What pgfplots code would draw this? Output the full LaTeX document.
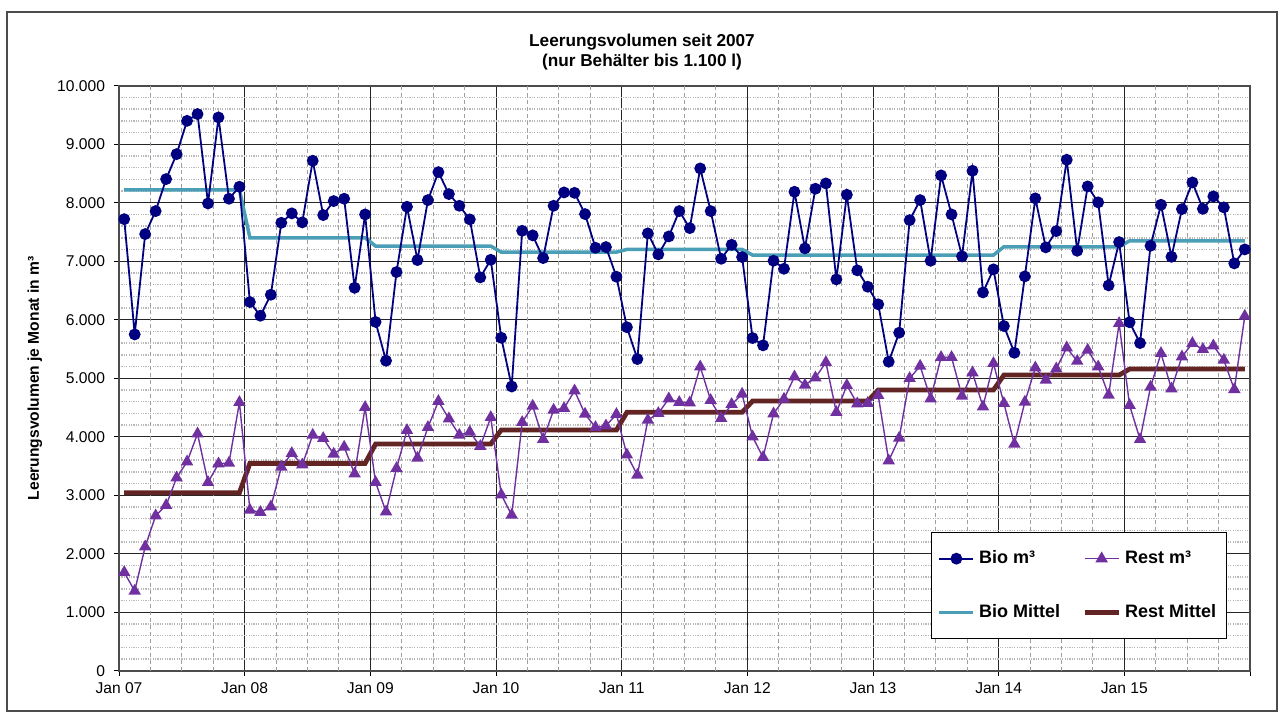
\documentclass[border=0pt]{standalone}
\usepackage{fontspec}
\setmainfont{Liberation Sans}
\usepackage{pgfplots}
\pgfplotsset{compat=1.18}
\usepackage{pgfplotstable}

\definecolor{bioc}{RGB}{0,0,128}
\definecolor{restc}{RGB}{112,48,160}
\definecolor{biom}{RGB}{74,158,182}
\definecolor{restm}{RGB}{99,37,35}

\pgfplotstableread{
x bio rest
0.5 7720 1683
1.5 5750 1364
2.5 7465 2121
3.5 7858 2651
4.5 8405 2828
5.5 8832 3300
6.5 9401 3573
7.5 9516 4052
8.5 7989 3221
9.5 9459 3539
10.5 8069 3551
11.5 8274 4589
12.5 6303 2748
13.5 6069 2709
14.5 6428 2805
15.5 7658 3483
16.5 7819 3717
17.5 7665 3522
18.5 8718 4030
19.5 7790 3973
20.5 8029 3705
21.5 8069 3825
22.5 6547 3368
23.5 7801 4503
24.5 5963 3221
25.5 5300 2719
26.5 6816 3461
27.5 7932 4110
28.5 7021 3637
29.5 8046 4161
30.5 8524 4606
31.5 8149 4309
32.5 7949 4030
33.5 7716 4081
34.5 6725 3837
35.5 7026 4332
36.5 5693 3010
37.5 4860 2663
38.5 7521 4247
39.5 7443 4526
40.5 7055 3956
41.5 7949 4457
42.5 8177 4486
43.5 8170 4787
44.5 7807 4389
45.5 7231 4161
46.5 7243 4189
47.5 6736 4384
48.5 5873 3691
49.5 5329 3346
50.5 7477 4286
51.5 7118 4401
52.5 7425 4651
53.5 7858 4589
54.5 7567 4582
55.5 8587 5197
56.5 7858 4623
57.5 7043 4315
58.5 7282 4555
59.5 7072 4731
60.5 5688 4001
61.5 5563 3649
62.5 7009 4394
63.5 6872 4645
64.5 8188 5026
65.5 7221 4884
66.5 8240 5009
67.5 8331 5272
68.5 6691 4418
69.5 8137 4879
70.5 6845 4565
71.5 6565 4575
72.5 6264 4708
73.5 5283 3591
74.5 5779 3979
75.5 7704 4999
76.5 8046 5209
77.5 7009 4651
78.5 8468 5358
79.5 7801 5358
80.5 7084 4696
81.5 8547 5095
82.5 6468 4514
83.5 6862 5255
84.5 5893 4571
85.5 5436 3876
86.5 6742 4594
87.5 8075 5180
88.5 7238 4970
89.5 7516 5163
90.5 8735 5522
91.5 7180 5294
92.5 8280 5482
93.5 8007 5197
94.5 6588 4713
95.5 7328 5939
96.5 5958 4540
97.5 5602 3956
98.5 7265 4850
99.5 7966 5426
100.5 7077 4821
101.5 7892 5368
102.5 8348 5597
103.5 7897 5494
104.5 8109 5556
105.5 7921 5311
106.5 6964 4810
107.5 7203 6063
}\data

\pgfplotstableread{
x biomittel restmittel
0.5 8222 3044
11.5 8222 3044
12.5 7402 3546
23.5 7402 3546
24.5 7260 3876
35.5 7260 3876
36.5 7157 4115
47.5 7157 4115
48.5 7203 4418
59.5 7203 4418
60.5 7106 4611
71.5 7106 4611
72.5 7106 4799
83.5 7106 4799
84.5 7248 5055
95.5 7248 5055
96.5 7350 5158
107.5 7350 5158
}\mittel

\begin{document}
\begin{tikzpicture}
\useasboundingbox (0pt,0pt) rectangle (642pt,357.5pt);
\draw[gray!60!black, line width=0.6pt] (3.5pt,2pt) rectangle (638.5pt,351.5pt);
\node[font=\bfseries\fontsize{8.6}{10}\selectfont, align=center] at (321pt,331.5pt)
  {Leerungsvolumen seit 2007\\(nur Behälter bis 1.100 l)};
\begin{axis}[
  at={(59.5pt,22.1pt)}, anchor=south west,
  width=565.5pt, height=292.5pt, scale only axis,
  xmin=0, xmax=108, ymin=0, ymax=10000,
  xtick={0,12,...,108},
  xticklabels={Jan 07,Jan 08,Jan 09,Jan 10,Jan 11,Jan 12,Jan 13,Jan 14,Jan 15,{}},
  ytick={0,1000,...,10000},
  scaled y ticks=false,
  minor y tick num=4,
  extra x ticks={3,6,9,15,18,21,27,30,33,39,42,45,51,54,57,63,66,69,75,78,81,87,90,93,99,102,105},
  extra x tick labels={},
  extra x tick style={major tick length=0pt, grid=major,
     major grid style={gray!75, line width=0.5pt, dash pattern=on 2pt off 1.5pt}},
  grid=both,
  major grid style={black!85, line width=0.5pt},
  minor grid style={gray!55, line width=0.7pt, dash pattern=on 0.6pt off 0.6pt},
  minor tick length=0pt,
  major tick length=2.5pt,
  tick align=outside,
  tick pos=left,
  axis line style={gray!60!black, line width=0.8pt},
  tick style={black, line width=0.5pt},
  /pgf/number format/.cd, 1000 sep={.}, assume math mode=true,
  /pgfplots/.cd,
  ticklabel style={font=\fontsize{7.8}{9}\selectfont},
  yticklabel style={xshift=-1pt},
  ylabel={Leerungsvolumen je Monat in m³},
  every axis y label/.style={at={(axis description cs:-0.0743,0.5)}, rotate=90, anchor=center,
     font=\bfseries\fontsize{7.8}{9}\selectfont},
  legend columns=2,
  legend cell align=left,
  legend style={at={(axis description cs:0.718,0.237)}, anchor=north west,
     draw=black, fill=white, line width=0.5pt,
     font=\bfseries\fontsize{9}{10}\selectfont,
     inner xsep=3pt, inner ysep=7pt, row sep=15pt,
     /tikz/every even column/.append style={column sep=9pt}},
]
\addplot[biom, line width=1.75pt, forget plot] table[x=x, y=biomittel] {\mittel};
\addplot[restm, line width=2.4pt, forget plot] table[x=x, y=restmittel] {\mittel};
\addplot[bioc, line width=0.9pt, mark=*, mark size=2.5pt, mark options={fill=bioc, solid}] table[x=x, y=bio] {\data};
\addlegendentry{Bio m³}
\addplot[restc, line width=0.7pt, mark=triangle*, mark size=2.9pt, mark options={fill=restc, solid}] table[x=x, y=rest] {\data};
\addlegendentry{Rest m³}
\addlegendimage{biom, line width=1.75pt}
\addlegendentry{Bio Mittel}
\addlegendimage{restm, line width=2.4pt}
\addlegendentry{Rest Mittel}
\end{axis}
\end{tikzpicture}
\end{document}
